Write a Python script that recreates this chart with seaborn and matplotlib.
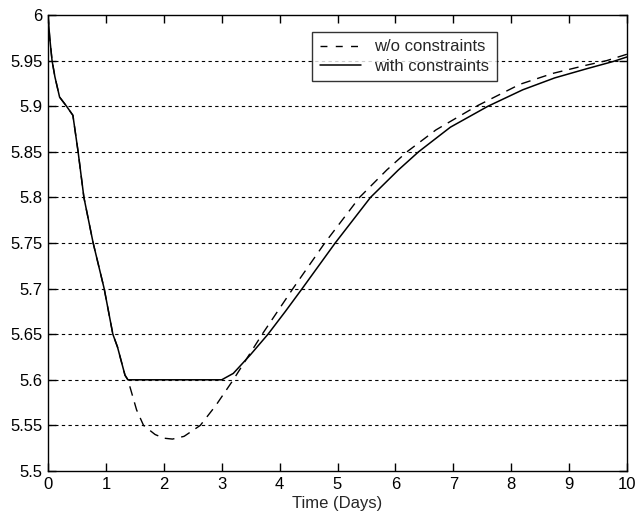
import matplotlib
matplotlib.use("Agg")
import matplotlib.pyplot as plt
import seaborn as sns
import pandas as pd
from matplotlib.ticker import FuncFormatter

sns.set_theme(style="white")
plt.rcParams['font.family'] = ['Liberation Sans', 'DejaVu Sans']

# with constraints (solid)
t_with = [0, 0.03, 0.07, 0.12, 0.2, 0.32, 0.43, 0.52, 0.62, 0.78, 0.97, 1.12, 1.2, 1.33, 1.38,
          2.0, 2.5, 3.0, 3.2, 3.49, 3.8, 4.1, 4.39, 4.96, 5.57, 6.05, 6.4, 6.95, 7.6, 8.2, 8.75, 9.3, 9.76, 10.0]
y_with = [6.0, 5.975, 5.95, 5.932, 5.91, 5.9, 5.89, 5.85, 5.8, 5.75, 5.7, 5.65, 5.636, 5.605, 5.6,
          5.6, 5.6, 5.6, 5.607, 5.627, 5.65, 5.675, 5.7, 5.75, 5.8, 5.83, 5.85, 5.877, 5.9, 5.918, 5.931, 5.941, 5.949, 5.954]

# without constraints (dashed)
t_wo = [0, 0.03, 0.07, 0.12, 0.2, 0.32, 0.43, 0.52, 0.62, 0.78, 0.97, 1.12, 1.2, 1.33, 1.38,
        1.53, 1.65, 1.85, 2.0, 2.15, 2.35, 2.63, 2.9, 3.2, 3.45, 3.7, 4.23, 4.78, 5.38, 5.85, 6.2, 6.7, 7.4, 8.15, 8.72, 9.3, 9.65, 10.0]
y_wo = [6.0, 5.975, 5.95, 5.932, 5.91, 5.9, 5.89, 5.85, 5.8, 5.75, 5.7, 5.65, 5.636, 5.605, 5.6,
        5.567, 5.55, 5.54, 5.536, 5.535, 5.538, 5.55, 5.572, 5.6, 5.625, 5.65, 5.7, 5.75, 5.8, 5.83, 5.85, 5.874, 5.9, 5.924, 5.936, 5.945, 5.95, 5.957]

y_ticks = [5.5, 5.55, 5.6, 5.65, 5.7, 5.75, 5.8, 5.85, 5.9, 5.95, 6.0]
x_ticks = list(range(0, 11))

df_with = pd.DataFrame({"t": t_with, "y": y_with})
df_wo = pd.DataFrame({"t": t_wo, "y": y_wo})

fig = plt.figure(figsize=(6.35, 5.22), dpi=100)
ax = fig.add_axes([48/635, 1-471/522, (627-48)/635, (471-15)/522])

for yv in y_ticks[1:-1]:
    ax.axhline(yv, color='black', lw=0.8, ls=(0, (3, 3)), zorder=1)

sns.lineplot(data=df_wo, x="t", y="y", ax=ax, color='black', lw=1.0,
             label="w/o constraints", sort=False, estimator=None)
ax.lines[-1].set_dashes((7, 5))
sns.lineplot(data=df_with, x="t", y="y", ax=ax, color='black', lw=1.1,
             label="with constraints", sort=False, estimator=None)

ax.set_xlim(0, 10)
ax.set_ylim(5.5, 6.0)
ax.set_xticks(x_ticks)
ax.set_yticks(y_ticks)
ax.yaxis.set_major_formatter(FuncFormatter(lambda v, p: f"{v:g}"))
ax.set_xlabel("Time (Days)", fontsize=12, labelpad=3)
ax.set_ylabel("")
ax.tick_params(direction='in', length=6, width=1, colors='black', labelsize=12,
               top=True, right=True, bottom=True, left=True, pad=4)
for s in ax.spines.values():
    s.set_visible(True)
    s.set_color('black')
    s.set_linewidth(1.0)

leg = ax.legend(loc='upper left', bbox_to_anchor=((312-48)/579, 1-(32-15)/456),
                frameon=True, fancybox=False, fontsize=12, handlelength=2.5,
                borderpad=0.45, labelspacing=0.25, handletextpad=0.8, borderaxespad=0)
leg.get_frame().set_edgecolor('black')
leg.get_frame().set_linewidth(1.0)
leg.get_lines()[0].set_dashes((5, 6))

fig.savefig("out.png", dpi=100, facecolor='white')
